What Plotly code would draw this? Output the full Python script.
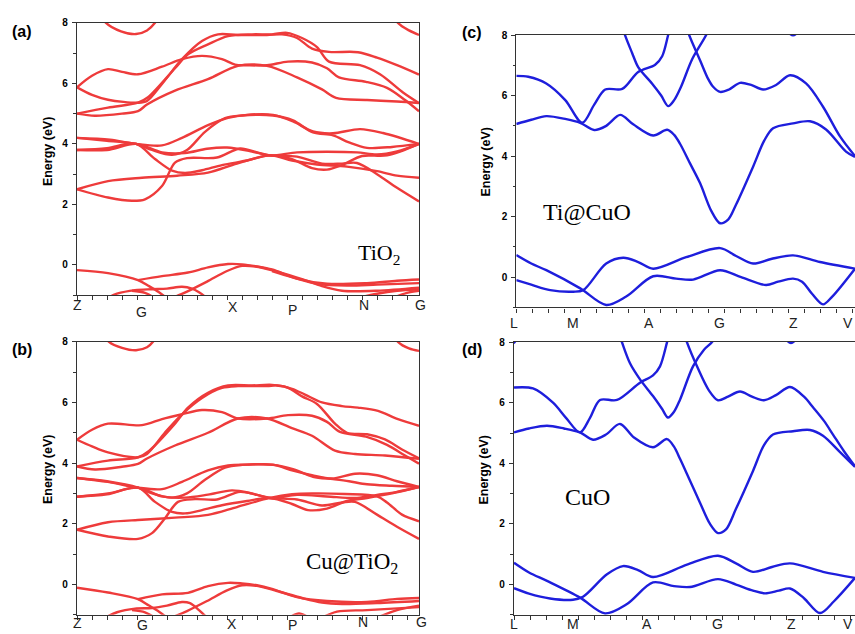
import plotly.graph_objects as go

W, H = 855, 634

# ---------------- (a) TiO2 : bands as (k, E) pairs ----------------
a_top1 = [(20, 8.5), (29, 8.0), (44, 7.72), (59, 7.63), (70, 7.75), (78, 8.0), (86, 8.5)]
a_top2 = [(312, 8.5), (321, 8.0), (332, 7.75), (342, 7.6)]
a_c1 = [(0, 5.87), (15, 6.25), (31, 6.47), (45, 6.38), (61, 6.3), (85, 6.55), (105, 6.8), (125, 6.91),
        (145, 6.8), (158, 6.62), (170, 6.6), (190, 6.6), (211, 6.72), (235, 6.69), (250, 6.5), (262, 6.2),
        (289, 6.05), (310, 5.85), (328, 5.45), (342, 5.08)]
a_c2 = [(0, 5.87), (15, 5.62), (31, 5.46), (61, 5.36), (70, 5.42), (85, 5.98), (105, 6.8), (125, 7.4),
        (141, 7.62), (161, 7.6), (190, 7.6), (205, 7.62), (220, 7.5), (235, 7.15), (252, 7.04), (281, 7.03),
        (300, 6.85), (320, 6.6), (342, 6.29)]
a_c3 = [(0, 5.0), (31, 5.2), (61, 5.36), (71, 5.54), (98, 6.5), (111, 6.96), (131, 7.29), (151, 7.56),
        (175, 7.62), (195, 7.62), (210, 7.67), (225, 7.5), (240, 7.2), (252, 6.72), (283, 6.6), (303, 6.3),
        (326, 5.7), (342, 5.35)]
a_c4 = [(0, 5.0), (18, 4.93), (45, 5.0), (61, 5.08), (70, 5.3), (98, 5.76), (131, 6.14), (161, 6.58),
        (190, 6.58), (220, 6.2), (245, 5.8), (259, 5.52), (290, 5.45), (320, 5.4), (342, 5.35)]
a_m1 = [(0, 4.2), (33, 4.14), (59, 4.0), (85, 3.95), (105, 4.2), (131, 4.62), (151, 4.86), (170, 4.96),
        (196, 4.96), (216, 4.74), (236, 4.41), (256, 4.35), (283, 4.49), (306, 4.36), (342, 4.0)]
a_m2 = [(0, 4.2), (30, 4.1), (59, 4.0), (75, 3.8), (95, 3.64), (110, 3.8), (128, 4.4), (148, 4.85),
        (165, 4.94), (196, 4.94), (216, 4.78), (236, 4.38), (256, 4.28), (272, 4.05), (290, 3.87),
        (315, 3.9), (342, 4.0)]
a_m3 = [(0, 3.8), (30, 3.8), (59, 4.0), (85, 3.72), (108, 3.7), (130, 3.84), (150, 3.88), (175, 3.75),
        (193, 3.62), (220, 3.72), (250, 3.74), (280, 3.72), (300, 3.65), (320, 3.75), (342, 4.0)]
a_m4 = [(0, 3.8), (30, 3.86), (59, 4.0), (78, 3.5), (95, 3.12), (108, 3.04), (125, 3.13), (145, 3.3),
        (170, 3.45), (193, 3.62), (215, 3.5), (235, 3.2), (250, 3.15), (265, 3.3), (285, 3.6), (310, 3.62),
        (342, 4.0)]
a_m5 = [(0, 2.5), (31, 2.77), (65, 2.88), (100, 2.95), (131, 3.05), (160, 3.35), (193, 3.62), (215, 3.45),
        (240, 3.32), (270, 3.25), (300, 3.1), (320, 2.95), (342, 2.88)]
a_m6 = [(0, 2.5), (31, 2.23), (55, 2.12), (68, 2.17), (85, 2.61), (98, 3.38), (110, 3.53), (140, 3.55),
        (163, 3.85), (180, 3.72), (193, 3.62), (220, 3.58), (245, 3.35), (265, 3.35), (280, 3.37),
        (300, 3.0), (320, 2.55), (342, 2.1)]
a_v1 = [(0, -0.17), (31, -0.27), (61, -0.5), (72, -0.7), (82, -0.9), (90, -1.1)]
a_v2 = [(61, -0.5), (85, -0.37), (111, -0.25), (131, -0.08), (151, 0.03), (165, 0.02), (180, -0.05),
        (195, -0.15), (220, -0.45), (250, -0.62), (290, -0.6), (320, -0.52), (342, -0.48)]
a_v3 = [(98, -1.05), (110, -0.88), (130, -0.55), (150, -0.2), (165, -0.03), (180, -0.06), (200, -0.22),
        (225, -0.47), (245, -0.7), (265, -0.85), (300, -0.85), (342, -0.75)]
a_v4 = [(30, -1.1), (40, -0.95), (58, -0.83), (75, -0.8), (90, -0.78), (105, -0.72), (115, -0.78),
        (122, -0.9), (130, -1.1)]
a_v5 = [(55, -0.85), (68, -0.92), (78, -1.1)]
a_v6 = [(280, -1.1), (300, -0.95), (320, -0.85), (342, -0.8)]
a_v7 = [(315, -1.1), (330, -0.92), (342, -0.85)]
a_v8 = [(195, -0.2), (215, -0.4), (240, -0.62), (270, -0.68), (300, -0.65), (342, -0.6)]

# ---------------- (b) Cu@TiO2 ----------------
b_top1 = [(20, 8.6), (32, 8.0), (45, 7.8), (59, 7.72), (70, 7.82), (76, 8.0), (86, 8.6)]
b_top2 = [(312, 8.5), (321, 8.0), (332, 7.78), (342, 7.7)]
b_c1 = [(0, 4.77), (15, 5.1), (31, 5.3), (65, 5.25), (85, 5.45), (105, 5.61), (125, 5.75), (145, 5.68),
        (161, 5.47), (190, 5.47), (211, 5.58), (235, 5.56), (250, 5.36), (263, 5.03), (289, 4.87),
        (310, 4.6), (328, 4.25), (342, 3.98)]
b_c2 = [(0, 4.77), (15, 4.55), (31, 4.35), (61, 4.19), (70, 4.3), (88, 5.01), (105, 5.61), (125, 6.15),
        (145, 6.48), (161, 6.54), (190, 6.54), (200, 6.56), (215, 6.45), (228, 6.26), (245, 6.0),
        (265, 5.88), (281, 5.83), (301, 5.72), (321, 5.45), (342, 5.23)]
b_c3 = [(0, 3.89), (31, 4.08), (61, 4.19), (72, 4.4), (98, 5.3), (111, 5.83), (131, 6.32), (151, 6.56),
        (175, 6.56), (195, 6.58), (210, 6.5), (225, 6.2), (240, 5.95), (258, 5.3), (270, 5.0), (290, 4.95),
        (308, 4.78), (325, 4.45), (342, 4.16)]
b_c4 = [(0, 3.89), (18, 3.79), (45, 3.88), (61, 3.97), (70, 4.15), (98, 4.58), (131, 5.0), (161, 5.47),
        (190, 5.47), (215, 5.15), (235, 4.9), (258, 4.41), (278, 4.3), (308, 4.25), (342, 4.14)]
b_m1 = [(0, 3.51), (31, 3.38), (61, 3.19), (85, 3.14), (105, 3.38), (131, 3.76), (151, 3.92), (170, 3.95),
        (196, 3.95), (216, 3.75), (235, 3.6), (255, 3.49), (278, 3.65), (300, 3.6), (320, 3.4), (342, 3.21)]
b_m2 = [(0, 3.51), (30, 3.4), (61, 3.19), (75, 3.0), (95, 2.86), (110, 3.0), (128, 3.45), (148, 3.85),
        (165, 3.94), (196, 3.94), (216, 3.8), (236, 3.55), (256, 3.47), (272, 3.4), (290, 3.3), (315, 3.25),
        (342, 3.21)]
b_m3 = [(0, 2.89), (31, 3.0), (61, 3.19), (85, 2.9), (108, 2.86), (131, 2.96), (155, 3.1), (175, 3.0),
        (193, 2.85), (220, 2.95), (250, 2.9), (280, 2.85), (300, 2.95), (320, 3.05), (342, 3.21)]
b_m4 = [(0, 2.89), (30, 2.97), (61, 3.19), (78, 2.72), (95, 2.39), (108, 2.34), (125, 2.45), (145, 2.61),
        (170, 2.75), (193, 2.85), (215, 2.65), (231, 2.45), (250, 2.5), (270, 2.75), (290, 2.85), (315, 3.0),
        (342, 3.21)]
b_m5 = [(0, 1.8), (31, 2.05), (65, 2.13), (98, 2.2), (131, 2.29), (160, 2.55), (193, 2.85), (215, 2.97),
        (235, 3.0), (268, 2.98), (300, 2.9), (310, 2.7), (325, 2.3), (342, 2.08)]
b_m6 = [(0, 1.8), (31, 1.58), (61, 1.5), (75, 1.69), (88, 2.18), (101, 2.72), (118, 2.81), (140, 2.8),
        (163, 3.05), (180, 2.95), (193, 2.85), (220, 2.8), (245, 2.6), (265, 2.7), (278, 2.72), (300, 2.3),
        (320, 1.9), (342, 1.5)]
b_v1 = [(0, -0.11), (31, -0.27), (61, -0.49), (72, -0.7), (82, -0.9), (90, -1.1)]
b_v2 = [(61, -0.49), (85, -0.33), (111, -0.28), (131, -0.06), (151, 0.05), (165, 0.03), (180, -0.03),
        (195, -0.15), (220, -0.42), (250, -0.55), (290, -0.58), (320, -0.48), (342, -0.45)]
b_v3 = [(98, -1.05), (110, -0.88), (130, -0.55), (150, -0.2), (165, -0.03), (180, -0.05), (200, -0.22),
        (225, -0.45), (245, -0.6), (265, -0.65), (300, -0.62), (342, -0.55)]
b_v4 = [(28, -1.1), (40, -0.92), (58, -0.8), (75, -0.78), (90, -0.7), (105, -0.58), (113, -0.62),
        (122, -0.85), (130, -1.1)]
b_v5 = [(55, -0.85), (68, -0.92), (78, -1.1)]
b_v6 = [(245, -1.1), (260, -0.9), (290, -0.85), (342, -0.75)]
b_v7 = [(300, -1.1), (320, -0.85), (342, -0.7)]
b_v8 = [(212, -1.1), (222, -0.96), (232, -1.1)]

# ---------------- (c) Ti@CuO ----------------
c_b1 = [(0, 5.06), (15, 5.2), (30, 5.32), (50, 5.22), (64, 5.1), (78, 4.86), (90, 5.0), (104, 5.36),
        (117, 5.05), (137, 4.68), (151, 4.87), (158, 4.7), (164, 4.4), (174, 3.75), (184, 3.1), (195, 2.2),
        (204, 1.78), (212, 1.9), (220, 2.4), (237, 3.65), (248, 4.5), (257, 4.92), (277, 5.08), (294, 5.15),
        (310, 4.88), (330, 4.15), (339, 3.97)]
c_b2 = [(0, 6.65), (12, 6.62), (30, 6.4), (49, 5.85), (66, 5.1), (78, 5.7), (89, 6.2), (106, 6.22),
        (122, 6.78), (139, 7.02), (146, 7.3), (152, 8.0), (156, 8.5)]
c_b3 = [(104, 8.5), (109, 7.98), (116, 7.4), (122, 6.94), (136, 6.39), (145, 6.0), (152, 5.65), (158, 5.85),
        (165, 6.3), (176, 7.2), (190, 8.0), (195, 8.4)]
c_b4 = [(168, 8.5), (173, 8.0), (184, 7.16), (192, 6.55), (197, 6.29), (204, 6.12), (213, 6.2), (224, 6.42),
        (235, 6.35), (247, 6.2), (260, 6.35), (274, 6.67), (290, 6.4), (307, 5.63), (324, 4.65), (339, 4.0)]
c_b5 = [(270, 8.15), (277, 7.99), (284, 8.15)]
c_v1 = [(0, 0.73), (15, 0.45), (30, 0.23), (64, -0.37), (90, -0.92), (110, -0.64), (137, 0.03), (160, -0.05),
        (177, -0.08), (204, 0.23), (225, 0.0), (250, -0.26), (262, -0.15), (277, -0.05), (286, -0.15),
        (296, -0.55), (307, -0.9), (316, -0.65), (339, 0.28)]
c_v2 = [(0, -0.1), (15, -0.25), (34, -0.43), (57, -0.48), (67, -0.43), (90, 0.45), (107, 0.64), (122, 0.5),
        (137, 0.28), (170, 0.66), (204, 0.96), (220, 0.7), (237, 0.45), (255, 0.6), (277, 0.72), (304, 0.5),
        (339, 0.28)]

# ---------------- (d) CuO ----------------
d_b1 = [(0, 5.02), (15, 5.15), (33, 5.24), (50, 5.15), (66, 5.02), (79, 4.78), (92, 4.95), (106, 5.3),
        (120, 4.85), (139, 4.53), (153, 4.8), (160, 4.55), (166, 4.15), (175, 3.5), (186, 2.7), (196, 2.0),
        (204, 1.7), (212, 1.82), (222, 2.5), (239, 3.75), (250, 4.6), (259, 4.95), (279, 5.06), (296, 5.1),
        (309, 4.91), (326, 4.37), (341, 3.88)]
d_b2 = [(0, 6.5), (19, 6.47), (39, 6.0), (52, 5.5), (66, 5.02), (76, 5.5), (86, 6.09), (103, 6.09),
        (126, 6.66), (139, 6.9), (146, 7.2), (153, 7.99), (157, 8.5)]
d_b3 = [(103, 8.5), (108, 7.99), (116, 7.3), (126, 6.77), (139, 6.22), (148, 5.8), (154, 5.51), (160, 5.7),
        (166, 6.1), (179, 7.2), (190, 7.75), (198, 8.0), (202, 8.3)]
d_b4 = [(168, 8.5), (173, 7.99), (183, 7.2), (195, 6.4), (204, 6.08), (214, 6.2), (226, 6.37), (238, 6.2),
        (250, 6.08), (262, 6.25), (276, 6.52), (290, 6.2), (299, 5.85), (310, 5.4), (319, 4.95), (330, 4.4),
        (341, 3.9)]
d_b5 = [(270, 8.15), (277, 7.97), (284, 8.15)]
d_b6 = [(-3, 8.15), (0, 7.98), (3, 8.15)]
d_v1 = [(0, 0.72), (15, 0.4), (33, 0.12), (66, -0.43), (91, -0.95), (113, -0.64), (139, 0.07), (160, -0.05),
        (176, -0.08), (204, 0.18), (222, 0.0), (239, -0.2), (251, -0.29), (265, -0.2), (276, -0.13),
        (290, -0.45), (306, -0.94), (320, -0.55), (341, 0.22)]
d_v2 = [(0, -0.12), (15, -0.3), (36, -0.46), (59, -0.5), (69, -0.4), (93, 0.34), (109, 0.61), (124, 0.48),
        (139, 0.25), (173, 0.66), (204, 0.95), (222, 0.7), (239, 0.42), (258, 0.58), (276, 0.7), (309, 0.42),
        (341, 0.22)]

# high-symmetry labels
tio2_kpts = ["Z", "G", "X", "P", "N", "G"]
cuo_kpts = ["L", "M", "A", "G", "Z", "V"]

panels = {
    "a": dict(bands=[a_top1, a_top2, a_c1, a_c2, a_c3, a_c4, a_m1, a_m2, a_m3, a_m4, a_m5, a_m6,
                     a_v1, a_v2, a_v3, a_v4, a_v5, a_v6, a_v7, a_v8], color="#EE3B3B", kmax=342),
    "b": dict(bands=[b_top1, b_top2, b_c1, b_c2, b_c3, b_c4, b_m1, b_m2, b_m3, b_m4, b_m5, b_m6,
                     b_v1, b_v2, b_v3, b_v4, b_v5, b_v6, b_v7, b_v8], color="#EE3B3B", kmax=342),
    "c": dict(bands=[c_b1, c_b2, c_b3, c_b4, c_b5, c_v1, c_v2], color="#1E1EDC", kmax=339),
    "d": dict(bands=[d_b1, d_b2, d_b3, d_b4, d_b5, d_b6, d_v1, d_v2], color="#1E1EDC", kmax=341),
}

# plot-area boxes in pixels (left, right, top, bottom)
boxes = {"a": (77, 419, 17, 292), "b": (77, 419, 339, 614.5),
         "c": (516.3, 855, 29.3, 304.3), "d": (514, 855, 339.3, 614.7)}
axis_ids = {"a": ("x", "y"), "b": ("x2", "y2"), "c": ("x3", "y3"), "d": ("x4", "y4")}

fig = go.Figure()
for key, p in panels.items():
    xa, ya = axis_ids[key]
    for band in p["bands"]:
        fig.add_trace(go.Scatter(
            x=[q[0] for q in band], y=[q[1] for q in band], mode="lines",
            line=dict(color=p["color"], width=2.4, shape="spline", smoothing=0.9),
            xaxis=xa, yaxis=ya, showlegend=False, hoverinfo="skip"))

layout = dict(width=W, height=H, margin=dict(l=0, r=0, t=0, b=0), autosize=False,
              paper_bgcolor="white", plot_bgcolor="white")
for key, (l, r, t, b) in boxes.items():
    xa, ya = axis_ids[key]
    xname = "xaxis" + xa[1:]
    yname = "yaxis" + ya[1:]
    full = key in ("a", "b")
    dt = 15 if full else 16
    layout[xname] = dict(domain=[l / W, min(r / W, 1.0)], range=[0, panels[key]["kmax"]], anchor=ya,
                         showline=True, linecolor="#333", linewidth=1.2, mirror=True,
                         ticks="outside", tick0=0, dtick=dt, ticklen=4, tickcolor="#333",
                         showticklabels=False, showgrid=False, zeroline=False, fixedrange=True)
    layout[yname] = dict(domain=[1 - b / H, 1 - t / H], range=[-1, 8], anchor=xa,
                         showline=True, linecolor="#333", linewidth=1.2, mirror=full,
                         ticks="outside", tickvals=[0, 2, 4, 6, 8], ticklen=4, tickcolor="#333",
                         minor=dict(ticks="outside", tickvals=[-1, 1, 3, 5, 7], ticklen=2.5, tickcolor="#333"),
                         tickfont=dict(family="Arial", size=10, color="black", weight="bold"),
                         ticklabelstandoff=2,
                         showgrid=False, zeroline=False, fixedrange=True)
fig.update_layout(**layout)


def ann(text, px, py, size, family="Arial", bold=False, angle=0, color="black"):
    fig.add_annotation(text=text, x=px / W, y=1 - py / H, xref="paper", yref="paper",
                       showarrow=False, textangle=angle, xanchor="center", yanchor="middle",
                       font=dict(family=family, size=size, color=color, weight="bold" if bold else "normal"))


# panel letters
for txt, px, py in [("(a)", 22, 26), ("(b)", 22, 347), ("(c)", 472, 27), ("(d)", 472, 347)]:
    ann(txt, px, py, 16, bold=True)
# y-axis titles
for px, py in [(47.5, 147), (47.5, 468), (486, 158), (484, 468)]:
    ann("Energy (eV)", px, py, 12.5, bold=True, angle=-90)
# material labels
ann("TiO<sub>2</sub>", 379, 250, 22, family="Liberation Serif")
ann("Cu@TiO<sub>2</sub>", 352, 562, 23, family="Liberation Serif")
ann("Ti@CuO", 587, 208, 24, family="Liberation Serif")
ann("CuO", 587, 496, 24, family="Liberation Serif")

# k-point labels
for txt, px, py in zip(tio2_kpts, [77, 141, 233, 292, 364, 420], [302, 309, 304, 307, 302, 302]):
    ann(txt, px, py, 14, color="#222")
for txt, px, py in zip(tio2_kpts, [77, 142, 232, 292, 363, 421], [623, 625, 624, 625, 622, 622]):
    ann(txt, px, py, 14, color="#222")
for txt, px, py in zip(cuo_kpts, [514, 573, 649, 719, 793, 848], [320, 320, 320, 320, 320, 320]):
    ann(txt, px, py, 14, color="#222")
for txt, px, py in zip(cuo_kpts, [514, 573, 647, 717, 791, 848], [624, 624, 624, 624, 624, 624]):
    ann(txt, px, py, 14, color="#222")

fig.write_html("out.html", config={"displayModeBar": False},
               post_script="document.body.style.margin='0px';document.body.style.overflow='hidden';")
